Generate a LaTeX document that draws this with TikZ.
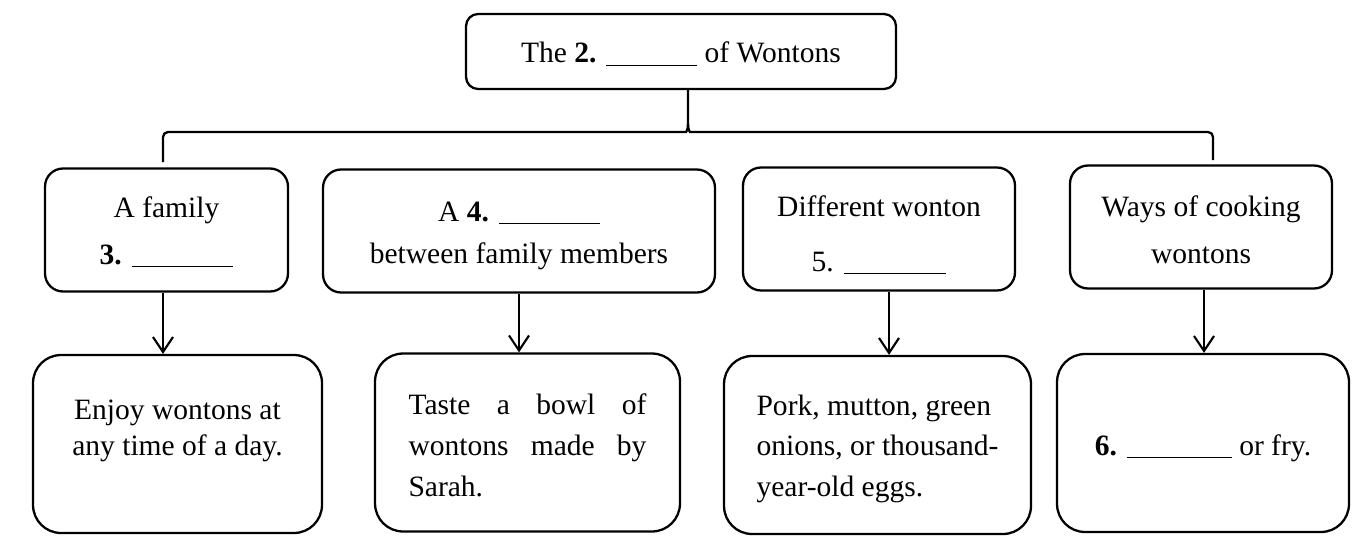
\documentclass[tikz,border=0pt]{standalone}
\usepackage{fontspec}
\setmainfont{Liberation Serif}
\usetikzlibrary{arrows.meta}
\newcommand{\fillin}[1][2cm]{\rule[-1.5pt]{#1}{0.6pt}}
\newcommand{\topgap}[1]{\rule{0pt}{#1}}
\begin{document}
\begin{tikzpicture}[
  x=0.02cm, y=-0.02cm,
  every node/.style={draw, line width=1.3pt, align=center, inner sep=0pt, font=\fontsize{16.8}{26.7}\selectfont},
  link/.style={line width=1.3pt},
  arr/.style={line width=1.2pt, -{Straight Barb[length=3mm, width=4mm]}}
]
\tikzset{
  titlebox/.style={rounded corners=0.24cm, minimum width=8.6cm, minimum height=1.5cm},
  topic/.style={rounded corners=0.36cm, minimum height=2.46cm},
  detail/.style={rounded corners=0.56cm, minimum height=3.56cm}
}
\useasboundingbox (0,0) rectangle (1371,551);
\node[titlebox, text height=17pt, text depth=4pt] (title) at (681,51.5) {The \textbf{2.} \fillin[1.82cm] of Wontons};
\node[topic, minimum width=4.86cm] (a1) at (166.5,230) {\topgap{14pt}A family\\\textbf{3.} \fillin[2.04cm]};
\node[topic, minimum width=7.84cm, font=\fontsize{16.8}{24}\selectfont] (a2) at (519,231) {\topgap{17pt}A \textbf{4.} \fillin[2.02cm]\\between family members};
\node[topic, minimum width=5.44cm, font=\fontsize{16.8}{31}\selectfont] (a3) at (879,229) {\topgap{18.4pt}Different wonton\\5. \fillin[2.06cm]};
\node[topic, minimum width=5.24cm] (a4) at (1201,227) {\topgap{15pt}Ways of cooking\\wontons};
\node[detail, minimum width=5.78cm, font=\fontsize{16.8}{20.5}\selectfont] (b1) at (177.5,444) {Enjoy wontons at\\any time of a day.\\[-8pt]\strut};
\node[detail, minimum width=6.1cm, text width=4.76cm, align=justify, font=\fontsize{16.8}{23.5}\selectfont] (b2) at (527.5,442.5) {\topgap{15pt}Taste a bowl of\linebreak wontons made by\linebreak Sarah.};
\node[detail, minimum width=6.14cm, align=left, font=\fontsize{16.8}{23}\selectfont] (b3) at (877.5,445) {\topgap{16pt}Pork, mutton, green\\onions, or thousand-\\year-old eggs.};
\node[detail, minimum width=5.84cm, text height=18pt, text depth=4pt] (b4) at (1203,443) {\textbf{6.} \fillin[2.1cm] or fry.};
\coordinate (bl) at (163,162);
\coordinate (br) at (1213,160);
\coordinate (stem) at ([xshift=0.14cm]title.south);
\draw[link] (bl) [rounded corners=0.1cm] -- (163,132) -- (681,132) [sharp corners] .. controls (686,132) and (688,130) .. (688,124) -- (stem);
\draw[link] (br) [rounded corners=0.1cm] -- (1213,132) -- (695,132) [sharp corners] .. controls (690,132) and (688,130) .. (688,124);
\coordinate (s1) at ([xshift=-0.07cm]a1.south);
\coordinate (s2) at (a2.south);
\coordinate (s3) at ([xshift=0.2cm]a3.south);
\coordinate (s4) at ([xshift=0.06cm]a4.south);
\draw[arr] (s1) -- (s1 |- b1.north);
\draw[arr] (s2) -- (s2 |- b2.north);
\draw[arr] (s3) -- (s3 |- b3.north);
\draw[arr] (s4) -- (s4 |- b4.north);
\end{tikzpicture}
\end{document}
